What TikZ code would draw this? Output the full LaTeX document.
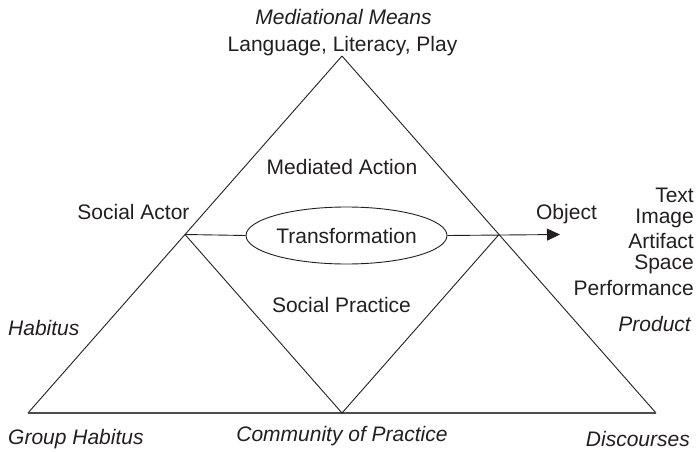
\documentclass[tikz,border=0pt]{standalone}
\usepackage{fontspec}
\setmainfont{Liberation Sans}
\usetikzlibrary{shapes.geometric,arrows.meta}
\definecolor{ink}{HTML}{231F20}
\begin{document}
\begin{tikzpicture}[x=1pt,y=1pt,
  lbl/.style={inner sep=0pt,anchor=mid,text=ink,font=\fontsize{21}{22}\selectfont},
  ilbl/.style={lbl,font=\fontsize{21}{22}\selectfont\itshape},
  edge/.style={draw=ink,line width=0.9pt,line join=miter},
  trans/.style={ellipse,draw=ink,line width=0.9pt,minimum width=201pt,minimum height=57pt,inner sep=0pt,text=ink,font=\fontsize{21}{22}\selectfont}]
\useasboundingbox (0,0) rectangle (697,451);
% vertices
\coordinate (A) at (342,395);
\coordinate (BL) at (28,38);
\coordinate (BR) at (656,38);
\coordinate (BM) at (342,38);
\coordinate (L) at (185,216.5);
\coordinate (R) at (499,216.5);
\coordinate (T) at (560,216.5);
% triangle and inner triangle
\draw[edge] (A) -- (BL);
\draw[edge] (A) -- (BR);
\draw[edge,line width=1.3pt,draw=ink!80] (BL) -- (BR);
\draw[edge] (L) -- (BM) -- (R);
% ellipse and arrow
\node[trans] (tr) at (346.5,215.5) {Transformation};
\draw[edge] (L) -- (tr.west);
\draw[edge,-{Triangle[length=13pt,width=12pt]}] (tr.east) -- (T);
% labels
\node[ilbl] (mm) at (343.5,429) {Mediational Means};
\node[lbl] (llp) at (342.5,402) {Language, Literacy, Play};
\node[lbl] (ma) at (342,279) {Mediated Action};
\node[lbl] (sa) at (133.5,234) {Social Actor};
\node[lbl] (ob) at (566.5,234) {Object};
\node[lbl] (sp) at (341.5,141) {Social Practice};
\node[ilbl,anchor=west] (hab) at (8,123) {Habitus};
\node[ilbl,anchor=east] (prod) at (691,127) {Product};
\node[lbl,anchor=east] (t1) at (694,256) {Text};
\node[lbl,anchor=east] (t2) at (694,233) {Image};
\node[lbl,anchor=east] (t3) at (694,210) {Artifact};
\node[lbl,anchor=east] (t4) at (694,187) {Space};
\node[lbl,anchor=east] (t5) at (694,163) {Performance};
\node[ilbl,anchor=west] (gh) at (8,12) {Group Habitus};
\node[ilbl] (cp) at (342,12) {Community of Practice};
\node[ilbl,anchor=east] (dis) at (690,12) {Discourses};
\end{tikzpicture}
\end{document}
